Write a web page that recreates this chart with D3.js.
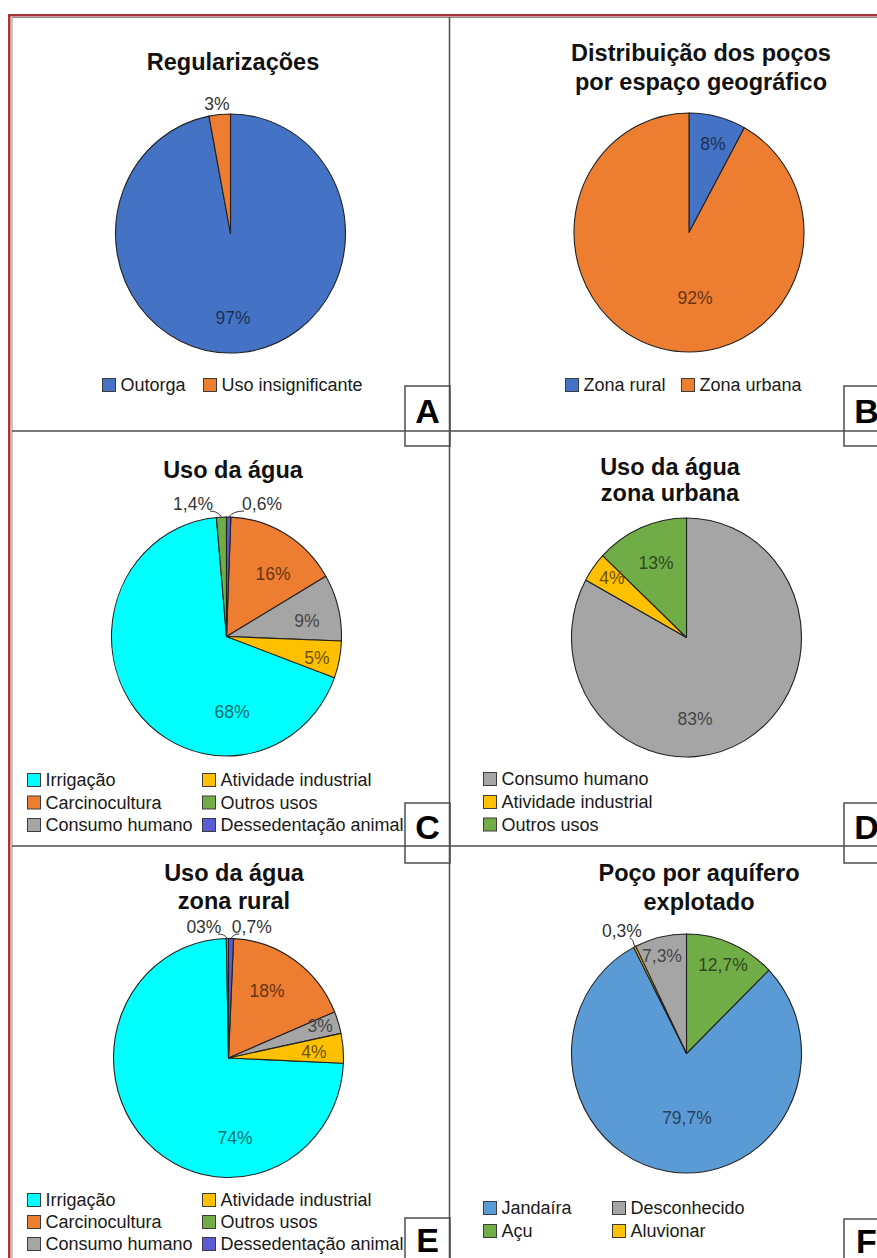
<!DOCTYPE html>
<html>
<head>
<meta charset="utf-8">
<script src="https://cdn.jsdelivr.net/npm/d3@7"></script>
<style>
  body { margin: 0; background: #fff; }
  svg { display: block; }
  text { font-family: "Liberation Sans", Arial, sans-serif; }
</style>
</head>
<body>
<svg id="chart" width="877" height="1258"></svg>
<script>
// ---- Data ----
// A: regularizações
const regCategories = ["Outorga", "Uso insignificante"];
const regValues = [97, 3];
const regLabels = ["97%", "3%"];

// B: poços por espaço geográfico
const zoneCategories = ["Zona rural", "Zona urbana"];
const zoneValues = [8, 92];
const zoneLabels = ["8%", "92%"];

// C: uso da água (total)
const useCategories = ["Irrigação", "Carcinocultura", "Consumo humano", "Atividade industrial", "Outros usos", "Dessedentação animal"];
const useValues = [68, 16, 9, 5, 1.4, 0.6];
const useLabels = ["68%", "16%", "9%", "5%", "1,4%", "0,6%"];
// slices clockwise from 12 o'clock
const useSliceOrder = ["Dessedentação animal", "Carcinocultura", "Consumo humano", "Atividade industrial", "Irrigação", "Outros usos"];

// D: uso da água, zona urbana
const urbanCategories = ["Consumo humano", "Atividade industrial", "Outros usos"];
const urbanValues = [83, 4, 13];
const urbanLabels = ["83%", "4%", "13%"];

// E: uso da água, zona rural
const ruralCategories = ["Irrigação", "Carcinocultura", "Consumo humano", "Atividade industrial", "Outros usos", "Dessedentação animal"];
const ruralValues = [74, 18, 3, 4, 0.3, 0.7];
const ruralLabels = ["74%", "18%", "3%", "4%", "03%", "0,7%"];

// F: poço por aquífero explotado
const aquiferCategories = ["Jandaíra", "Açu", "Desconhecido", "Aluvionar"];
const aquiferValues = [79.7, 12.7, 7.3, 0.3];
const aquiferLabels = ["79,7%", "12,7%", "7,3%", "0,3%"];
const aquiferSliceOrder = ["Açu", "Jandaíra", "Aluvionar", "Desconhecido"];

// ---- Styles ----
const palette = {
  "Outorga": "#4472C4", "Uso insignificante": "#ED7D31",
  "Zona rural": "#4472C4", "Zona urbana": "#ED7D31",
  "Irrigação": "#00FFFF", "Carcinocultura": "#ED7D31", "Consumo humano": "#A5A5A5",
  "Atividade industrial": "#FFC000", "Outros usos": "#70AD47", "Dessedentação animal": "#5B5BD6",
  "Jandaíra": "#5B9BD5", "Açu": "#70AD47", "Desconhecido": "#A5A5A5", "Aluvionar": "#FFC000"
};

const RX = 115, RY = 119.5;   // pie radii (slightly tall ellipse)

// label placement: [angle nudge (deg) from slice middle, radius fraction, leader line?]
const panels = [
  { letter: "A", cats: regCategories, vals: regValues, labels: regLabels, order: null,
    title: ["Regularizações"], tx: 233, ty: [62],
    cx: 230.5, cy: 233.5,
    place: [[3.6, 0.707], [-0.8, 1.09]],
    legend: [[102, 385], [203, 385]],
    box: [405, 386], ly: 25 },
  { letter: "B", cats: zoneCategories, vals: zoneValues, labels: zoneLabels, order: null,
    title: ["Distribuição dos poços", "por espaço geográfico"], tx: 701, ty: [53, 82],
    cx: 689, cy: 232.5,
    place: [[1.3, 0.77], [-19.8, 0.55]],
    legend: [[565, 385], [681, 385]],
    box: [844, 386], ly: 25 },
  { letter: "C", cats: useCategories, vals: useValues, labels: useLabels, order: useSliceOrder,
    title: ["Uso da água"], tx: 233, ty: [470],
    cx: 226.5, cy: 636.5,
    place: [[-56.9, 0.634], [6.7, 0.661], [3.5, 0.712], [1.7, 0.807], [-12.2, 1.146, true], [14.5, 1.151, true]],
    legend: [[27, 780], [27, 802.5], [27, 825], [202, 780], [202, 802.5], [202, 825]],
    box: [405, 803], ly: 23.5 },
  { letter: "D", cats: urbanCategories, vals: urbanValues, labels: urbanLabels, order: null,
    title: ["Uso da água", "zona urbana"], tx: 670, ty: [467, 493],
    cx: 686.5, cy: 637.5,
    place: [[24.4, 0.686], [1.5, 0.817], [0.4, 0.677]],
    legend: [[483, 779], [483, 802], [483, 824.5]],
    box: [844, 803], ly: 23.5 },
  { letter: "E", cats: ruralCategories, vals: ruralValues, labels: ruralLabels, order: useSliceOrder,
    title: ["Uso da água", "zona rural"], tx: 234, ty: [873, 901],
    cx: 228.5, cy: 1058,
    place: [[-50.6, 0.672], [-4.1, 0.653], [-1.3, 0.84], [0.8, 0.745], [-10.5, 1.117, true], [9.2, 1.115, true]],
    legend: [[27, 1200], [27, 1222], [27, 1244], [202, 1200], [202, 1222], [202, 1244]],
    box: [405, 1218], ly: 21.5 },
  { letter: "F", cats: aquiferCategories, vals: aquiferValues, labels: aquiferLabels, order: aquiferSliceOrder,
    title: ["Poço por aquífero", "explotado"], tx: 699, ty: [873, 902],
    cx: 686.5, cy: 1053.5,
    place: [[-9.6, 0.54], [0.3, 0.806], [-1.5, 0.843], [-1.9, 1.168, true]],
    legend: [[483, 1208], [483, 1231], [612, 1208], [612, 1231]],
    box: [844, 1219], ly: 21.5 }
];

const svg = d3.select("#chart");

// ---- Frame and panel grid ----
const LINE = "#4d4d4d";
svg.append("path").attr("d", "M12,1258V17.5H877").attr("fill", "none")
  .attr("stroke", "#8a8a8a").attr("stroke-width", 1);
svg.append("path").attr("d", "M9.25,1258V15.25H877").attr("fill", "none")
  .attr("stroke", "#A8343A").attr("stroke-width", 2.5);

const arc = d3.arc().innerRadius(0).outerRadius(RX);

panels.forEach(p => {
  const rows = p.cats.map((c, i) => ({ cat: c, value: p.vals[i], label: p.labels[i], place: p.place[i] }));
  const color = d3.scaleOrdinal().domain(p.cats).range(p.cats.map(c => palette[c]));

  const pie = d3.pie().value(d => d.value)
    .sort(p.order ? (a, b) => p.order.indexOf(a.cat) - p.order.indexOf(b.cat) : null);
  const arcs = pie(rows);

  // title
  const tt = svg.append("text").attr("x", p.tx).attr("text-anchor", "middle")
    .attr("font-size", 23.5).attr("font-weight", "bold").attr("fill", "#111");
  p.title.forEach((line, i) => {
    tt.append("tspan").attr("x", p.tx).attr("y", p.ty[i]).attr("dy", "0.36em").text(line);
  });

  // slices
  svg.append("g")
    .attr("transform", `translate(${p.cx},${p.cy}) scale(1,${RY / RX})`)
    .selectAll("path").data(arcs).join("path")
    .attr("d", arc)
    .attr("fill", d => color(d.data.cat))
    .attr("stroke", "#222").attr("stroke-width", 1.1)
    .attr("vector-effect", "non-scaling-stroke")
    .attr("stroke-linejoin", "round");

  // value labels
  arcs.forEach(d => {
    const [nudge, frac, leader] = d.data.place;
    const mid = (d.startAngle + d.endAngle) / 2;
    const a = mid + nudge * Math.PI / 180;
    const lx = p.cx + Math.sin(a) * frac * RX;
    const ly = p.cy - Math.cos(a) * frac * RY;
    const outside = frac > 1;
    const fill = outside ? "#333" : d3.color(color(d.data.cat)).darker(2.4).formatHex();
    const t = svg.append("text").attr("x", lx).attr("y", ly).attr("dy", "0.36em")
      .attr("text-anchor", "middle").attr("font-size", 17.5).attr("fill", fill)
      .text(d.data.label);
    if (leader) {
      const w = t.node().getBBox().width;
      const ex = p.cx + Math.sin(mid) * RX;
      const ey = p.cy - Math.cos(mid) * RY;
      let sx = lx + 0.6 * (ex - lx);
      sx = Math.max(lx - w / 2 + 2, Math.min(lx + w / 2 - 2, sx));
      const sy = ly + 7;
      const qx = ex + (sx - ex) * 0.3;
      svg.append("path")
        .attr("d", `M${sx},${sy}Q${qx},${sy} ${ex},${ey}`)
        .attr("fill", "none").attr("stroke", "#333").attr("stroke-width", 1);
    }
  });

  // legend
  const lg = svg.append("g");
  p.cats.forEach((c, i) => {
    const [x, y] = p.legend[i];
    lg.append("rect").attr("x", x + 0.5).attr("y", y - 6.5).attr("width", 13).attr("height", 13)
      .attr("fill", color(c)).attr("stroke", "#3c3c3c").attr("stroke-width", 1);
    lg.append("text").attr("x", x + 18.5).attr("y", y).attr("dy", "0.36em")
      .attr("font-size", 18).attr("fill", "#1a1a1a").text(c);
  });

  // panel letter box
  const [bx, by] = p.box;
  svg.append("rect").attr("x", bx).attr("y", by).attr("width", 45).attr("height", 60)
    .attr("fill", "#fff").attr("stroke", LINE).attr("stroke-width", 1.5);
  svg.append("text").attr("x", bx + 22.5).attr("y", by + p.ly).attr("dy", "0.36em")
    .attr("text-anchor", "middle").attr("font-size", 34).attr("font-weight", "bold")
    .attr("fill", "#000").text(p.letter);
});

// panel dividers, drawn over the letter boxes' lower edges
[431, 846].forEach(y => {
  svg.append("line").attr("x1", 12).attr("x2", 877).attr("y1", y).attr("y2", y)
    .attr("stroke", LINE).attr("stroke-width", 1.5);
});
svg.append("line").attr("x1", 449.5).attr("x2", 449.5).attr("y1", 17).attr("y2", 1258)
  .attr("stroke", LINE).attr("stroke-width", 1.5);
</script>
</body>
</html>
